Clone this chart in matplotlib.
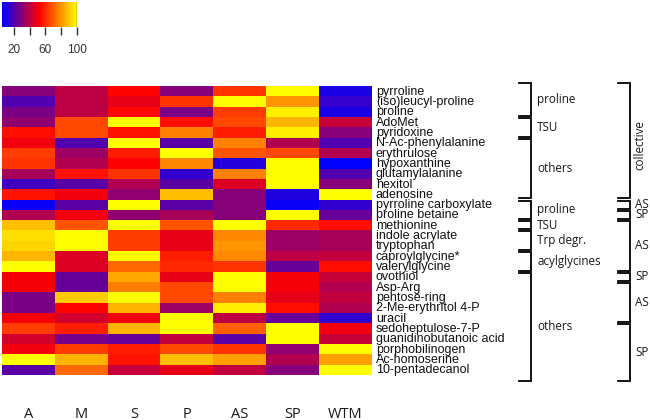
import numpy as np
import matplotlib
matplotlib.use("Agg")
import matplotlib.pyplot as plt
from matplotlib.colors import LinearSegmentedColormap
from matplotlib.transforms import blended_transform_factory

columns = ["A", "M", "S", "P", "AS", "SP", "WTM"]
metabolites = ["pyrroline", "(iso)leucyl-proline", "proline", "AdoMet", "pyridoxine",
               "N-Ac-phenylalanine", "erythrulose", "hypoxanthine", "glutamylalanine",
               "hexitol", "adenosine", "pyrroline carboxylate", "proline betaine",
               "methionine", "indole acrylate", "tryptophan", "caproylglycine*",
               "valerylglycine", "ovothiol", "Asp-Arg", "pentose-ring",
               "2-Me-erythritol 4-P", "uracil", "sedoheptulose-7-P",
               "guanidinobutanoic acid", "porphobilinogen", "Ac-homoserine",
               "10-pentadecanol"]

vals_A   = [30, 20, 28, 32, 55, 50, 64, 62, 36, 17, 56, 7, 38, 88, 94, 92, 86, 100, 51, 51, 28, 28, 51, 64, 44, 50, 100, 22]
vals_M   = [40, 40, 40, 66, 66, 20, 34, 38, 56, 22, 50, 22, 50, 68, 100, 100, 46, 46, 24, 24, 90, 53, 44, 58, 27, 64, 86, 72]
vals_S   = [53, 48, 54, 100, 56, 100, 58, 52, 62, 38, 32, 100, 32, 100, 64, 64, 100, 72, 84, 76, 100, 86, 50, 86, 24, 58, 56, 42]
vals_P   = [30, 62, 28, 55, 76, 22, 100, 78, 14, 22, 88, 22, 36, 68, 48, 48, 58, 60, 48, 66, 66, 34, 100, 100, 41, 66, 88, 48]
vals_AS  = [62, 100, 64, 66, 58, 76, 68, 12, 76, 46, 30, 30, 30, 100, 78, 80, 78, 62, 100, 100, 76, 97, 40, 70, 22, 62, 82, 41]
vals_SP  = [100, 80, 97, 86, 97, 38, 66, 100, 100, 100, 11, 7, 100, 60, 34, 34, 40, 24, 51, 51, 48, 55, 24, 100, 100, 32, 38, 30]
vals_WTM = [10, 15, 10, 42, 30, 20, 38, 5, 20, 30, 100, 14, 24, 55, 36, 36, 41, 55, 42, 38, 41, 38, 14, 50, 42, 100, 82, 100]

colorbar_ticks = [20, 40, 60, 80, 100]
colorbar_labels = ["20", "", "60", "", "100"]
vmin, vmax = 5, 100

# group brackets: (label, first row, last row)
groups_inner = [("proline", 0, 2), ("TSU", 3, 4), ("others", 5, 10), ("proline", 11, 12),
                ("TSU", 13, 13), ("Trp degr.", 14, 15), ("acylglycines", 16, 17), ("others", 18, 27)]
groups_outer = [("collective", 0, 10), ("AS", 11, 11), ("SP", 12, 12), ("AS", 13, 17),
                ("SP", 18, 18), ("AS", 19, 22), ("SP", 23, 27)]

data = np.array([vals_A, vals_M, vals_S, vals_P, vals_AS, vals_SP, vals_WTM], dtype=float).T
cmap = LinearSegmentedColormap.from_list("byr", ["#0000ff", "#ff0000", "#ffff00"])

W, H = 650, 420
fig = plt.figure(figsize=(W / 100, H / 100), dpi=100)

def px_axes(x0, y0, x1, y1):
    return fig.add_axes([x0 / W, 1 - y1 / H, (x1 - x0) / W, (y1 - y0) / H])

ax = px_axes(2, 68, 372, 396)
ax.imshow(data, cmap=cmap, vmin=vmin, vmax=vmax, aspect="auto", interpolation="nearest")
ax.set_xticks([])
ax.set_yticks([])
for s in ax.spines.values():
    s.set_visible(False)

nrows = len(metabolites)
trans_lbl = blended_transform_factory(fig.transFigure, ax.transData)
for i, name in enumerate(metabolites):
    ax.text(376 / W, i + 0.05, name, transform=trans_lbl, ha="left", va="center",
            fontsize=9, family=["Liberation Sans", "DejaVu Sans"], color="#111111", clip_on=False)

trans_col = blended_transform_factory(ax.transData, fig.transFigure)
for j, c in enumerate(columns):
    ax.text(j, 1 - 418 / H, c, transform=trans_col, ha="center", va="baseline",
            fontsize=10.5, family=["Open Sans", "DejaVu Sans"], color="#1a1a1a", clip_on=False)

# brackets
def draw_brackets(groups, x_tick, x_line, x_text, rotate_first=False):
    for k, (lab, r0, r1) in enumerate(groups):
        top = r0 - 0.5 + 0.1
        bot = r1 + 0.5 - 0.1
        if r0 == 0:
            top = r0 - 0.5 - 0.3
        if r1 == nrows - 1:
            bot = r1 + 0.5 + 0.6
        xs = [x_tick / W, x_line / W, x_line / W, x_tick / W]
        ys = [top, top, bot, bot]
        ax.plot(xs, ys, transform=trans_lbl, color="black", lw=1.3, clip_on=False,
                solid_joinstyle="miter")
        if rotate_first and lab == "collective":
            ax.text(640 / W, (top + bot) / 2 + 0.4, lab, transform=trans_lbl, rotation=90,
                    ha="center", va="center", fontsize=8.4,
                    family=["Open Sans", "DejaVu Sans"], color="#1a1a1a", clip_on=False)
        else:
            ax.text(x_text / W, (top + bot) / 2, lab, transform=trans_lbl, ha="left",
                    va="center", fontsize=8.4, family=["Open Sans", "DejaVu Sans"],
                    color="#1a1a1a", clip_on=False)

draw_brackets(groups_inner, 519, 531, 537)
draw_brackets(groups_outer, 618, 630, 635, rotate_first=True)

# colorbar
cax = px_axes(2, 2, 77, 27)
grad = np.linspace(vmin, vmax, 256).reshape(1, -1)
cax.imshow(grad, cmap=cmap, vmin=vmin, vmax=vmax, aspect="auto",
           extent=(vmin, vmax, 0, 1))
cax.set_xlim(vmin, vmax)
cax.set_ylim(0, 1)
cax.set_yticks([])
for s in cax.spines.values():
    s.set_visible(False)
cax.axvline(vmax, color="#333333", lw=1.0)
cax.set_xticks(colorbar_ticks)
cax.set_xticklabels(colorbar_labels, fontsize=8.5, family=["Liberation Sans", "DejaVu Sans"],
                    color="#333333")
cax.tick_params(axis="x", length=5.5, width=1.0, color="#333333", pad=7)

fig.savefig("out.png", dpi=100)
